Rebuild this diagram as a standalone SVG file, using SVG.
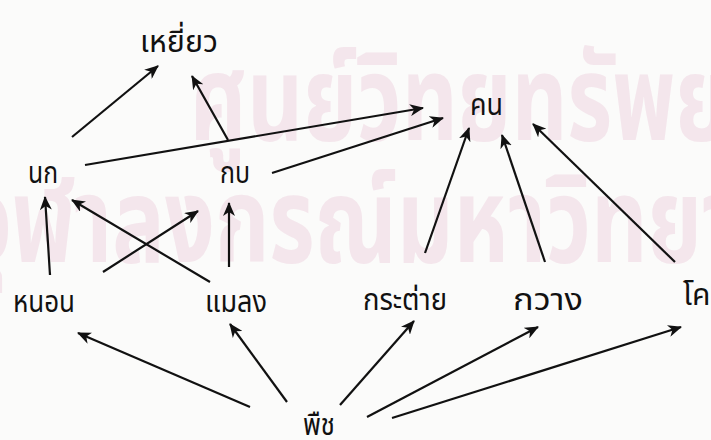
<svg xmlns="http://www.w3.org/2000/svg" width="711" height="440" viewBox="0 0 711 440">
<defs>
<style>
.lbl{font-family:"Noto Sans Thai","Noto Sans","DejaVu Sans",sans-serif;font-size:30px;fill:#111}
.wm{font-family:"Noto Sans Thai","Noto Sans","DejaVu Sans",sans-serif;font-size:120px;fill:#f4e6ec;font-weight:bold}
.e{stroke:#111;stroke-width:2.2;fill:none;marker-end:url(#ah)}
</style>
<marker id="ah" markerUnits="userSpaceOnUse" markerWidth="16" markerHeight="12" refX="13" refY="6" orient="auto">
<path d="M0,0 L14,6 L0,12 L4,6 z" fill="#111"/>
</marker>
</defs>
<rect width="711" height="440" fill="#fbfbfa"/>
<g id="watermark">
<text class="wm" x="190" y="140" textLength="676" lengthAdjust="spacingAndGlyphs">ศูนย์วิทยทรัพยากร</text>
<text class="wm" x="-37" y="262" textLength="884" lengthAdjust="spacingAndGlyphs">จุฬาลงกรณ์มหาวิทยาลัย</text>
</g>
<g id="connectors">
<line class="e" x1="72" y1="137" x2="158" y2="66"/>
<line class="e" x1="228" y1="140" x2="192" y2="76"/>
<line class="e" x1="85" y1="165" x2="423" y2="108"/>
<line class="e" x1="272" y1="173" x2="443" y2="118"/>
<line class="e" x1="425" y1="253" x2="469" y2="128"/>
<line class="e" x1="545" y1="262" x2="502" y2="135"/>
<line class="e" x1="675" y1="262" x2="533" y2="124"/>
<line class="e" x1="50" y1="275" x2="45" y2="197"/>
<line class="e" x1="210" y1="282" x2="72" y2="200"/>
<line class="e" x1="103" y1="272" x2="198" y2="211"/>
<line class="e" x1="229" y1="267" x2="229" y2="203"/>
<line class="e" x1="250" y1="407" x2="78" y2="333"/>
<line class="e" x1="287" y1="402" x2="230" y2="324"/>
<line class="e" x1="340" y1="405" x2="414" y2="321"/>
<line class="e" x1="367" y1="417" x2="538" y2="327"/>
<line class="e" x1="392" y1="418" x2="681" y2="327"/>
</g>
<g id="n-hawk"><text class="lbl" x="140" y="52" textLength="78" lengthAdjust="spacingAndGlyphs">เหยี่ยว</text></g>
<g id="n-human"><text class="lbl" x="470" y="115" textLength="33" lengthAdjust="spacingAndGlyphs">คน</text></g>
<g id="n-bird"><text class="lbl" x="28" y="183" textLength="30" lengthAdjust="spacingAndGlyphs">นก</text></g>
<g id="n-frog"><text class="lbl" x="220" y="183" textLength="30" lengthAdjust="spacingAndGlyphs">กบ</text></g>
<g id="n-worm"><text class="lbl" x="13" y="312" textLength="62" lengthAdjust="spacingAndGlyphs">หนอน</text></g>
<g id="n-insect"><text class="lbl" x="205" y="312" textLength="62" lengthAdjust="spacingAndGlyphs">แมลง</text></g>
<g id="n-rabbit"><text class="lbl" x="363" y="310" textLength="84" lengthAdjust="spacingAndGlyphs">กระต่าย</text></g>
<g id="n-deer"><text class="lbl" x="513" y="310" textLength="70" lengthAdjust="spacingAndGlyphs">กวาง</text></g>
<g id="n-cow"><text class="lbl" x="683" y="305">โค</text></g>
<g id="n-plant"><text class="lbl" x="303" y="435" textLength="32" lengthAdjust="spacingAndGlyphs">พืช</text></g>
</svg>
